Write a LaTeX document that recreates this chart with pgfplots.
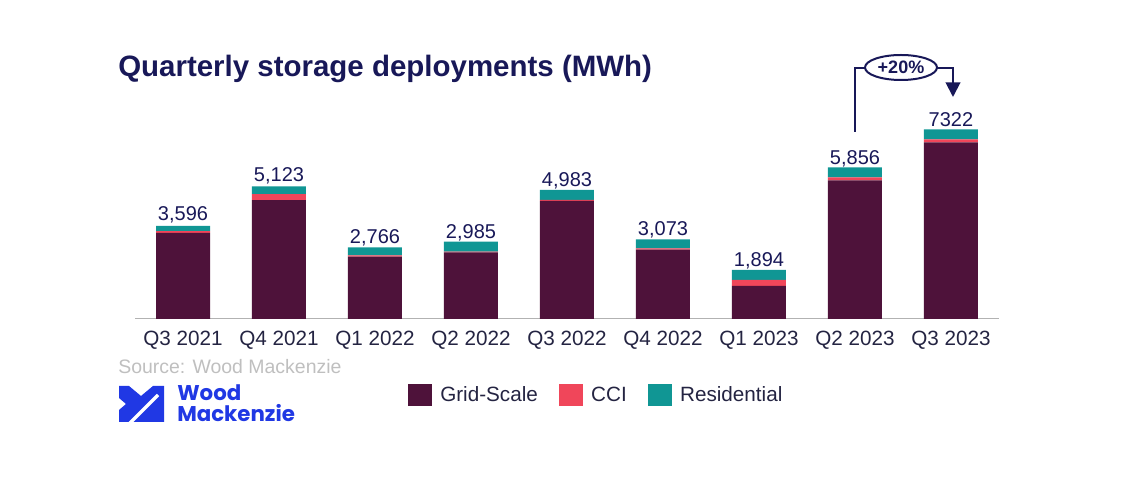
\documentclass[border=0pt]{standalone}
\usepackage{pgfplots}
\pgfplotsset{compat=1.18}
\usepackage{pgfplotstable}
\usepackage{fontspec}
\setmainfont{Liberation Sans}
\newfontfamily\logofont{Poppins}
\usetikzlibrary{arrows.meta}
\definecolor{gridc}{RGB}{78,18,58}
\definecolor{ccic}{RGB}{240,70,90}
\definecolor{resic}{RGB}{16,150,148}
\definecolor{navy}{RGB}{24,24,88}
\definecolor{labc}{RGB}{36,36,66}
\definecolor{wmblue}{RGB}{32,56,228}

\pgfplotstableread{
x grid cci res label
0 3330 60 206 3,596
1 4593 230 300 5,123
2 2406 50 310 2,766
3 2570 30 385 2,985
4 4558 40 385 4,983
5 2683 40 350 3,073
6 1279 230 385 1,894
7 5356 115 385 5,856
8 6822 115 385 7322
}\data

\begin{document}
\begin{tikzpicture}[x=0.75pt,y=0.75pt]
\path (0,0) rectangle (1140,500);
\begin{axis}[
  at={(101.25pt,135.75pt)}, anchor=south west,
  scale only axis, width=648pt, height=164.25pt,
  xmin=-0.5, xmax=8.5, ymin=0, ymax=8456,
  ybar stacked, bar width=0.5625,
  axis x line*=bottom, axis y line=none,
  x axis line style={draw=black!30, line width=0.75pt, -},
  xtick={0,...,8},
  xticklabels={Q3 2021,Q4 2021,Q1 2022,Q2 2022,Q3 2022,Q4 2022,Q1 2023,Q2 2023,Q3 2023},
  major tick length=0pt,
  xticklabel style={font=\fontsize{15.5}{15.5}\selectfont, text=labc, anchor=north, inner sep=0pt, yshift=-8.5pt},
  clip=false,
  legend columns=3,
  legend style={at={(axis description cs:0.316,-0.347)}, anchor=west, draw=none, inner sep=0pt,
    font=\fontsize{15.5}{15.5}\selectfont, text=labc,
    /tikz/every odd column/.append style={column sep=4pt},
    /tikz/every even column/.append style={column sep=14pt}},
  legend image code/.code={\fill[#1] (0pt,-8.25pt) rectangle (18pt,8.25pt);},
]
\addplot[fill=gridc, draw=none] table[x=x,y=grid]{\data};
\addplot[fill=ccic, draw=none] table[x=x,y=cci]{\data};
\addplot[fill=resic, draw=none, nodes near coords, point meta=explicit symbolic,
  nodes near coords style={anchor=south, inner sep=0pt, text depth=0pt, yshift=6pt,
  font=\fontsize{15}{15}\selectfont, text=navy}] table[x=x,y=res,meta=label]{\data};
\legend{Grid-Scale,CCI,Residential}
\end{axis}
% title
\node[anchor=base west, inner sep=0pt, text=navy, font=\fontsize{22.1}{22.1}\selectfont\bfseries] at (118,423) {Quarterly storage deployments (MWh)};
% source
\node[anchor=base west, inner sep=0pt, text=black!25, font=\fontsize{14.6}{14.6}\selectfont] at (118,126) {Source: Wood Mackenzie};
% logo
\fill[wmblue] (119,114) -- (129,114) -- (141,104) -- (153,114) -- (164,114) -- (164,78) -- (119,78) -- (119,90) -- (126,96) -- (119,102) -- cycle;
\draw[white, line width=2.5pt] (128,75) -- (158,105);
\node[anchor=base west, inner sep=0pt, text=wmblue, font=\logofont\fontsize{16}{16}\selectfont\bfseries] at (177,99) {Wood};
\node[anchor=base west, inner sep=0pt, text=wmblue, font=\logofont\fontsize{16}{16}\selectfont\bfseries] at (177,78) {Mackenzie};
% growth annotation
\draw[navy, line width=1.5pt] (855,368) -- (855,432) -- (865,432);
\draw[navy, line width=1.5pt] (901,432.5) ellipse [x radius=36, y radius=12.5];
\node[text=navy, font=\fontsize{13.5}{13.5}\selectfont\bfseries] at (901,432.5) {+20\%};
\draw[navy, line width=1.5pt, -{Triangle[length=11pt,width=11pt]}] (937,432) -- (953,432) -- (953,403);
\end{tikzpicture}
\end{document}
